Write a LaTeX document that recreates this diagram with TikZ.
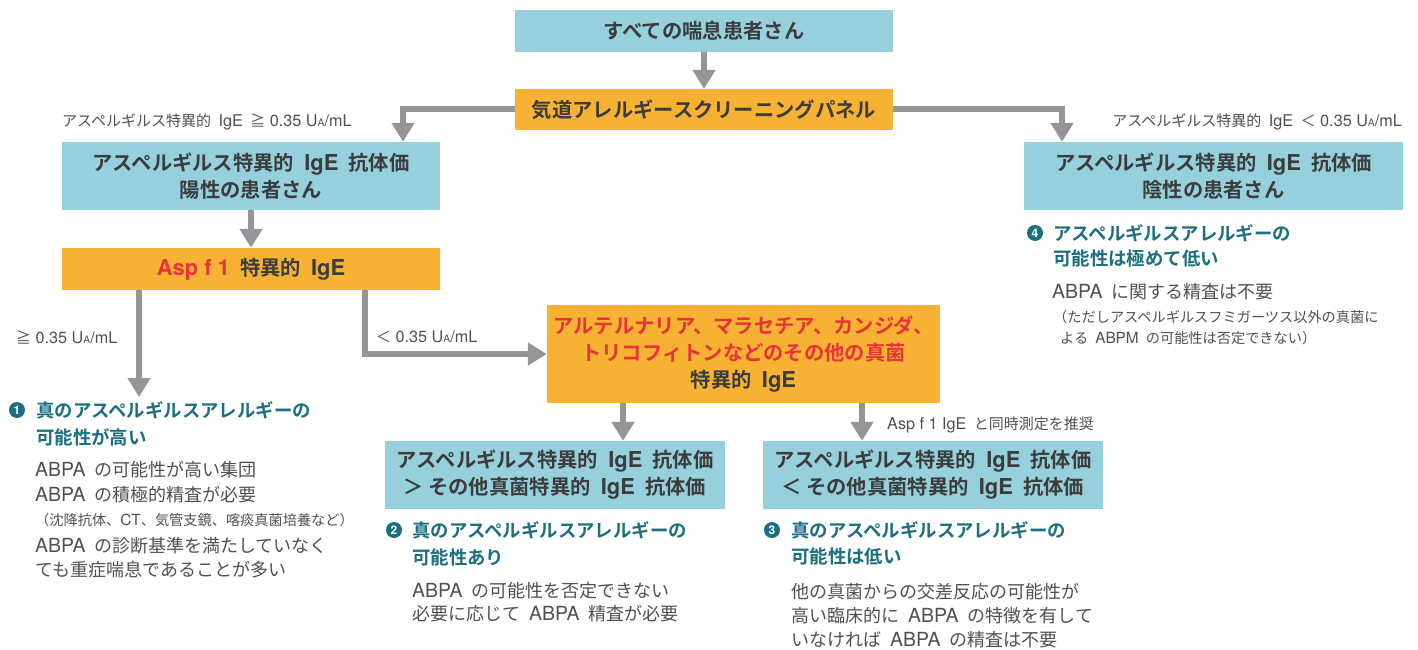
\documentclass[tikz,border=0pt]{standalone}
\usepackage{fontspec}
\setmainfont{Noto Sans CJK JP}[BoldFont={Noto Sans CJK JP Bold}]
\newfontfamily\latfont[Scale=1.08]{TeX Gyre Heros}
\newcommand\ltn[1]{{\latfont #1}}
\newcommand\gp{\hspace{0.5em}}
\usetikzlibrary{arrows.meta,calc}
\definecolor{boxteal}{HTML}{96D0DC}
\definecolor{boxorange}{HTML}{F7B233}
\definecolor{arrgray}{HTML}{939598}
\definecolor{txtdark}{HTML}{3C3C3C}
\definecolor{txtred}{HTML}{E8333A}
\definecolor{headteal}{HTML}{1B6F80}
\definecolor{bodygray}{HTML}{505050}
\newcommand\fBox{\fontsize{20.3}{27}\selectfont\bfseries}
\newcommand\fHead{\fontsize{18.4}{27}\selectfont\bfseries}
\newcommand\fBody{\fontsize{18}{25}\selectfont}
\newcommand\fSmall{\fontsize{14.2}{20}\selectfont}
\newcommand\fLab{\fontsize{15}{20}\selectfont}
\newcommand\UA{\ltn{U{\fontsize{9.5}{9.5}\selectfont A}/mL}}
\tikzset{
  x=1pt, y=-1pt,
  tbox/.style={fill=boxteal, draw=none, inner sep=0, align=center, font=\fBox, text=txtdark},
  obox/.style={fill=boxorange, draw=none, inner sep=0, align=center, font=\fBox, text=txtdark},
  arr/.style={draw=arrgray, line width=6pt, -{Triangle[width=22pt,length=19pt]}},
  lab/.style={inner sep=0, font=\fLab, text=bodygray},
  hd/.style={anchor=west, inner sep=0, font=\fHead, text=headteal},
  bd/.style={anchor=west, inner sep=0, font=\fBody, text=bodygray},
  sm/.style={anchor=west, inner sep=0, font=\fSmall, text=bodygray},
  numc/.style={circle, fill=headteal, text=white, inner sep=0, minimum size=16pt, font=\fontsize{11}{11}\selectfont\bfseries\latfont},
}
\begin{document}
\begin{tikzpicture}
\useasboundingbox (0,0) rectangle (1418,650);
% boxes
\node[tbox, minimum width=378pt, minimum height=42pt] (top) at (704,31) {すべての喘息患者さん};
\node[obox, minimum width=378pt, minimum height=41pt] (scr) at (704,109.5) {気道アレルギースクリーニングパネル};
\node[tbox, minimum width=378pt, minimum height=68pt] (pos) at (251,176) {アスペルギルス特異的\gp\ltn{IgE}\gp 抗体価\\陽性の患者さん};
\node[tbox, minimum width=379pt, minimum height=68pt] (neg) at (1213.5,176) {アスペルギルス特異的\gp\ltn{IgE}\gp 抗体価\\陰性の患者さん};
\node[obox, minimum width=378pt, minimum height=42pt] (asp) at (251,269) {{\color{txtred}\ltn{Asp f 1}}\gp 特異的\gp\ltn{IgE}};
\node[obox, minimum width=393pt, minimum height=98pt] (oth) at (743.5,354) {{\color{txtred}アルテルナリア、マラセチア、カンジダ、}\\{\color{txtred}トリコフィトンなどのその他の真菌}\\特異的\gp\ltn{IgE}};
\node[tbox, minimum width=340pt, minimum height=68pt] (b2) at (555,475) {アスペルギルス特異的\gp\ltn{IgE}\gp 抗体価\\＞\hspace{0.2em}その他真菌特異的\gp\ltn{IgE}\gp 抗体価};
\node[tbox, minimum width=340pt, minimum height=68pt] (b3) at (933,475) {アスペルギルス特異的\gp\ltn{IgE}\gp 抗体価\\＜\hspace{0.2em}その他真菌特異的\gp\ltn{IgE}\gp 抗体価};
% connectors
\draw[arr] (top) -- (scr);
\draw[arr] (scr.west) -| ([xshift=152pt]pos.north);
\draw[arr] (scr.east) -| ([xshift=-151.5pt]neg.north);
\draw[arr] (pos) -- (asp);
\coordinate (c1) at (139,397);
\draw[arr] ([xshift=-112pt]asp.south) -- (c1);
\draw[arr] ([xshift=114pt]asp.south) |- (oth.west);
\draw[arr] ([xshift=-120.5pt]oth.south) coordinate (o1) -- (o1 |- b2.north);
\draw[arr] ([xshift=118.5pt]oth.south) coordinate (o2) -- (o2 |- b3.north);
% labels
\node[lab, anchor=west] (l1) at (62,122) {アスペルギルス特異的\gp\ltn{IgE}\gp ≧\ltn{ 0.35 }\UA};
\node[lab, anchor=east] (l2) at (1402,122) {アスペルギルス特異的\gp\ltn{IgE}\gp ＜\ltn{ 0.35 }\UA};
\node[lab, anchor=west] (l3) at (16,337) {≧\ltn{ 0.35 }\UA};
\node[lab, anchor=west] (l4) at (376,337) {＜\ltn{ 0.35 }\UA};
\node[lab, anchor=west] (l5) at (887,425) {\ltn{Asp f 1 IgE}\gp と同時測定を推奨};
% section 1
\node[numc] (n1) at (17,410) {1};
\node[hd] (h1a) at (36,410) {真のアスペルギルスアレルギーの};
\node[hd] (h1b) at (36,437) {可能性が高い};
\node[bd] (t1a) at (35,470) {\ltn{ABPA}\gp の可能性が高い集団};
\node[bd] (t1b) at (35,495) {\ltn{ABPA}\gp の積極的精査が必要};
\node[sm] (t1c) at (35,520) {（沈降抗体、\ltn{CT}、気管支鏡、喀痰真菌培養など）};
\node[bd] (t1d) at (35,546) {\ltn{ABPA}\gp の診断基準を満たしていなく};
\node[bd] (t1e) at (35,570) {ても重症喘息であることが多い};
% section 2
\node[numc] (n2) at (394,530) {2};
\node[hd] (h2a) at (412,530) {真のアスペルギルスアレルギーの};
\node[hd] (h2b) at (412,557) {可能性あり};
\node[bd] (t2a) at (412,591) {\ltn{ABPA}\gp の可能性を否定できない};
\node[bd] (t2b) at (412,614) {必要に応じて\gp\ltn{ABPA}\gp 精査が必要};
% section 3
\node[numc] (n3) at (772,530) {3};
\node[hd] (h3a) at (791,530) {真のアスペルギルスアレルギーの};
\node[hd] (h3b) at (791,556) {可能性は低い};
\node[bd] (t3a) at (791,592) {他の真菌からの交差反応の可能性が};
\node[bd] (t3b) at (791,616) {高い臨床的に\gp\ltn{ABPA}\gp の特徴を有して};
\node[bd] (t3c) at (791,640) {いなければ\gp\ltn{ABPA}\gp の精査は不要};
% section 4
\node[numc] (n4) at (1035,233) {4};
\node[hd] (h4a) at (1053,233) {アスペルギルスアレルギーの};
\node[hd] (h4b) at (1053,258) {可能性は極めて低い};
\node[bd] (t4a) at (1052,292) {\ltn{ABPA}\gp に関する精査は不要};
\node[sm] (t4b) at (1053,317) {（ただしアスペルギルスフミガーツス以外の真菌に};
\node[sm] (t4c) at (1060,338) {よる\gp\ltn{ABPM}\gp の可能性は否定できない）};
\end{tikzpicture}
\end{document}
